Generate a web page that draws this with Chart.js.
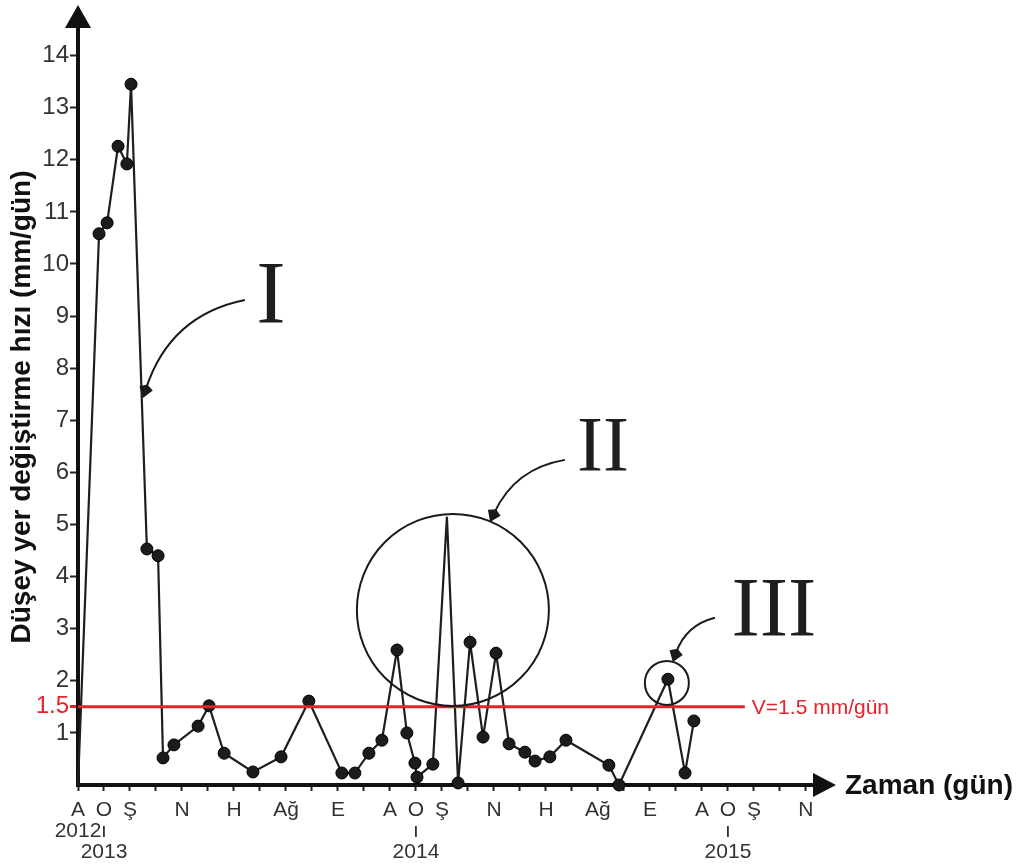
<!DOCTYPE html>
<html>
<head>
<meta charset="utf-8">
<script src="https://cdn.jsdelivr.net/npm/chart.js@4"></script>
<style>
html, body { margin: 0; padding: 0; background: #fff; }
</style>
</head>
<body>
<canvas id="grafik" width="1028" height="866"></canvas>
<script>
// Zaman ekseni: Aralık 2012'den itibaren ay cinsinden
const aylar = [0, 0.81, 1.12, 1.54, 1.88, 2.04, 2.65, 3.08, 3.27, 3.69, 4.62, 5.04, 5.62, 6.73, 7.81, 8.88,
    10.15, 10.65, 11.19, 11.69, 12.27, 12.65, 12.96, 13.04, 13.65, 14.19, 14.62, 15.08, 15.58, 16.08, 16.58,
    17.19, 17.58, 18.15, 18.77, 20.42, 20.81, 22.69, 23.35, 23.69];
// Düşey yer değiştirme hızı (mm/gün)
const hizlar = [0, 10.58, 10.79, 12.26, 11.92, 13.45, 4.53, 4.40, 0.52, 0.77, 1.13, 1.52, 0.61, 0.25, 0.54, 1.61,
    0.23, 0.23, 0.61, 0.86, 2.59, 1.00, 0.42, 0.15, 0.40, 5.15, 0.04, 2.74, 0.92, 2.53, 0.79,
    0.63, 0.46, 0.54, 0.86, 0.38, 0.0, 2.03, 0.23, 1.23];
// noktasız köşeler
const noktasiz = [0, 25];

const ayEtiketleri = ['A', 'O', 'Ş', '', 'N', '', 'H', '', 'Ağ', '', 'E', '', 'A', 'O', 'Ş', '', 'N', '', 'H', '',
    'Ağ', '', 'E', '', 'A', 'O', 'Ş', '', 'N'];
const yilTikleri = [0, 1, 13, 25];
const yillar = ['2012', '2013', '2014', '2015'];
const yTikleri = [1, 2, 3, 4, 5, 6, 7, 8, 9, 10, 11, 12, 13, 14, 1.5];

// eşik hızı
const esik = 1.5;
const esikBitis = 25.65;
const esikEtiketi = 'V=1.5 mm/gün';

const KIRMIZI = '#e5232b';
const SANS = "'Liberation Sans', Arial, sans-serif";
const SERIF = "'Liberation Serif', 'Times New Roman', serif";

// açıklama işaretleri (veri koordinatlarında)
const halkalar = [{ x: 14.42, y: 3.36, r: 96 }, { x: 22.65, y: 1.96, r: 22 }];
const romenler = [
    { t: 'I', x: 7.42, y: 8.89, size: 88 },
    { t: 'II', x: 20.19, y: 6.05, size: 78 },
    { t: 'III', x: 26.77, y: 2.86, size: 85 }
];
const oklar = [
    { x0: 6.42, y0: 9.31, cx: 3.54, cy: 9.02, x1: 2.5, y1: 7.43 },
    { x0: 18.73, y0: 6.24, cx: 16.81, cy: 6.08, x1: 15.85, y1: 5.05 },
    { x0: 24.5, y0: 3.21, cx: 23.38, cy: 3.07, x1: 22.88, y1: 2.36 }
];

const noktalar = aylar.map((a, i) => ({ x: a, y: hizlar[i] }));

const suslemeler = {
    id: 'suslemeler',
    afterDraw(chart) {
        const { ctx, chartArea: ca, scales: { x, y } } = chart;
        ctx.save();
        ctx.fillStyle = '#111';
        // eksen okları
        ctx.beginPath();
        ctx.moveTo(ca.left - 13, ca.top - 1);
        ctx.lineTo(ca.left + 13, ca.top - 1);
        ctx.lineTo(ca.left, ca.top - 24);
        ctx.closePath();
        ctx.fill();
        ctx.beginPath();
        ctx.moveTo(ca.right - 1, ca.bottom - 12);
        ctx.lineTo(ca.right - 1, ca.bottom + 12);
        ctx.lineTo(ca.right + 22, ca.bottom);
        ctx.closePath();
        ctx.fill();

        ctx.font = 'bold 28px ' + SANS;
        ctx.textBaseline = 'middle';
        ctx.textAlign = 'left';
        ctx.fillText('Zaman (gün)', ca.right + 31, ca.bottom + 1);

        // eşik etiketi
        ctx.fillStyle = KIRMIZI;
        ctx.font = '21px ' + SANS;
        ctx.fillText(esikEtiketi, x.getPixelForValue(esikBitis) + 7, y.getPixelForValue(esik) + 1);

        // halkalar
        ctx.strokeStyle = '#1a1a1a';
        ctx.lineWidth = 2;
        halkalar.forEach(h => {
            ctx.beginPath();
            ctx.arc(x.getPixelForValue(h.x), y.getPixelForValue(h.y), h.r, 0, Math.PI * 2);
            ctx.stroke();
        });

        // oklar
        ctx.fillStyle = '#1a1a1a';
        oklar.forEach(o => {
            const p0 = [x.getPixelForValue(o.x0), y.getPixelForValue(o.y0)];
            const pc = [x.getPixelForValue(o.cx), y.getPixelForValue(o.cy)];
            const p1 = [x.getPixelForValue(o.x1), y.getPixelForValue(o.y1)];
            const ang = Math.atan2(p1[1] - pc[1], p1[0] - pc[0]);
            const bx = p1[0] - Math.cos(ang) * 10, by = p1[1] - Math.sin(ang) * 10;
            ctx.beginPath();
            ctx.moveTo(p0[0], p0[1]);
            ctx.quadraticCurveTo(pc[0], pc[1], bx, by);
            ctx.stroke();
            ctx.beginPath();
            ctx.moveTo(p1[0], p1[1]);
            ctx.lineTo(bx + Math.cos(ang + Math.PI / 2) * 7, by + Math.sin(ang + Math.PI / 2) * 7);
            ctx.lineTo(p1[0] - Math.cos(ang) * 14, p1[1] - Math.sin(ang) * 14);
            ctx.lineTo(bx + Math.cos(ang - Math.PI / 2) * 7, by + Math.sin(ang - Math.PI / 2) * 7);
            ctx.closePath();
            ctx.fill();
        });

        // romen rakamları
        ctx.fillStyle = '#1e1e1e';
        ctx.textAlign = 'center';
        ctx.textBaseline = 'alphabetic';
        romenler.forEach(r => {
            ctx.font = r.size + 'px ' + SERIF;
            ctx.fillText(r.t, x.getPixelForValue(r.x), y.getPixelForValue(r.y));
        });
        ctx.restore();
    }
};

const ctx = document.getElementById('grafik').getContext('2d');
new Chart(ctx, {
    type: 'line',
    data: {
        datasets: [
            {
                data: [{ x: 0, y: esik }, { x: esikBitis, y: esik }],
                borderColor: KIRMIZI,
                borderWidth: 3,
                pointRadius: 0,
                clip: false
            },
            {
                data: noktalar,
                borderColor: '#1e1e1e',
                borderWidth: 2.2,
                pointRadius: c => noktasiz.includes(c.dataIndex) ? 0 : 6,
                pointBackgroundColor: '#1c1c1c',
                pointBorderColor: '#000',
                pointBorderWidth: 1,
                tension: 0,
                clip: false
            }
        ]
    },
    options: {
        responsive: false,
        animation: false,
        events: [],
        layout: { padding: { left: 0, top: 29, right: 214, bottom: 0 } },
        plugins: { legend: { display: false }, tooltip: { enabled: false } },
        scales: {
            x: {
                type: 'linear',
                min: 0,
                max: 28.31,
                afterFit: s => { s.height = 81; },
                border: { width: 4, color: '#111' },
                grid: { drawOnChartArea: false, tickLength: 6, tickWidth: 2, tickColor: '#222' },
                ticks: {
                    stepSize: 1,
                    includeBounds: false,
                    autoSkip: false,
                    maxRotation: 0,
                    padding: 9,
                    color: '#333',
                    font: { family: SANS, size: 21, lineHeight: 1 },
                    callback: v => {
                        const ay = ayEtiketleri[v] || '';
                        const k = yilTikleri.indexOf(v);
                        if (k === 0) return [ay, yillar[k]];
                        if (k > 0) return [ay, 'ı', yillar[k]];
                        return ay;
                    }
                }
            },
            y: {
                min: 0,
                max: 14.51,
                afterFit: s => { s.width = 78; },
                afterBuildTicks: s => { s.ticks = yTikleri.map(v => ({ value: v })); },
                border: { width: 4, color: '#111' },
                grid: {
                    drawOnChartArea: false,
                    tickLength: 8,
                    tickWidth: c => c.tick && c.tick.value === esik ? 3 : 2,
                    tickColor: c => c.tick && c.tick.value === esik ? KIRMIZI : '#222'
                },
                ticks: {
                    padding: 1,
                    color: c => c.tick && c.tick.value === esik ? KIRMIZI : '#333',
                    font: { family: SANS, size: 24 },
                    callback: v => String(v)
                },
                title: {
                    display: true,
                    text: 'Düşey yer değiştirme hızı (mm/gün)',
                    color: '#111',
                    font: { family: SANS, size: 28, weight: 'bold' },
                    padding: { top: 5, bottom: 0 }
                }
            }
        }
    },
    plugins: [suslemeler]
});
</script>
</body>
</html>
